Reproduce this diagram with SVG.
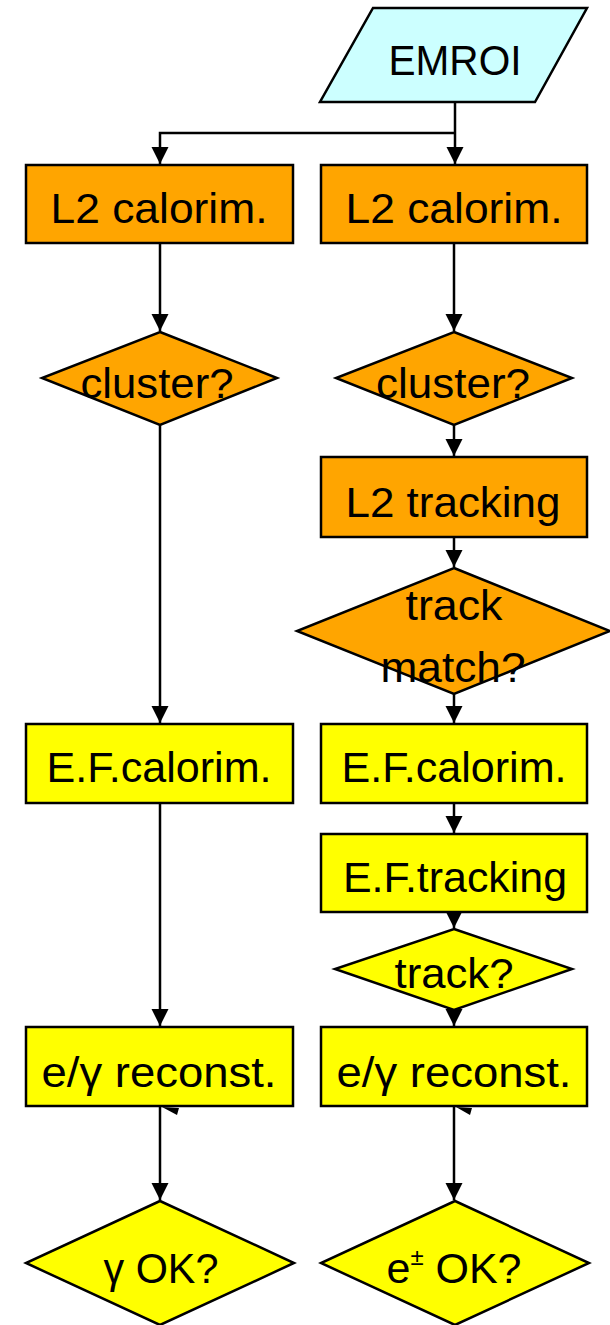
<svg xmlns="http://www.w3.org/2000/svg" width="610" height="1325" viewBox="0 0 610 1325">
  <style>
    .shape { stroke: #000; stroke-width: 2.5; stroke-linejoin: miter; }
    .io { fill: #CCFFFF; }
    .l2 { fill: #FFA500; }
    .ef { fill: #FFFF00; }
    .lbl { font-family: "Liberation Sans", Arial, sans-serif; font-size: 43px; fill: #000; text-anchor: middle; }
    .conn { fill: none; stroke: #000; stroke-width: 2.5; }
    .stub { fill: #000; stroke: none; }
  </style>
  <defs>
    <marker id="arrow" markerUnits="userSpaceOnUse" markerWidth="18" markerHeight="18" viewBox="0 0 18 18" refX="17" refY="9" orient="auto">
      <path d="M0,0.5 L17,9 L0,17.5 z" fill="#000"/>
    </marker>
  </defs>

  <rect width="610" height="1325" fill="#fff"/>

  <!-- connectors -->
  <g id="connectors">
    <path class="conn" d="M455,102 V164" marker-end="url(#arrow)"/>
    <path class="conn" d="M455,133 H160 V164" marker-end="url(#arrow)"/>
    <!-- photon branch -->
    <path class="conn" d="M160,243 V331" marker-end="url(#arrow)"/>
    <path class="conn" d="M160,425 V723" marker-end="url(#arrow)"/>
    <path class="conn" d="M160,803 V1026" marker-end="url(#arrow)"/>
    <path class="conn" d="M160,1106 V1200" marker-end="url(#arrow)"/>
    <!-- electron branch -->
    <path class="conn" d="M454,243 V331" marker-end="url(#arrow)"/>
    <path class="conn" d="M454,425 V456" marker-end="url(#arrow)"/>
    <path class="conn" d="M454,537 V567" marker-end="url(#arrow)"/>
    <path class="conn" d="M454,694 V723" marker-end="url(#arrow)"/>
    <path class="conn" d="M454,803 V833" marker-end="url(#arrow)"/>
    <path class="conn" d="M454,912 V928" marker-end="url(#arrow)"/>
    <path class="conn" d="M454,1010 V1026" marker-end="url(#arrow)"/>
    <path class="conn" d="M454,1106 V1200" marker-end="url(#arrow)"/>
    <!-- small arrowhead stubs under the reconstruction boxes -->
    <polygon class="stub" points="162,1107 179,1108 177,1115"/>
    <polygon class="stub" points="456,1107 472,1108 470,1115"/>
  </g>

  <g id="emroi">
    <polygon class="shape io" points="373,8 587,8 535,102 320,102"/>
    <text class="lbl" x="455" y="75" textLength="133" lengthAdjust="spacingAndGlyphs">EMROI</text>
  </g>

  <!-- photon branch -->
  <g id="l2-calo-gamma">
    <rect class="shape l2" x="26" y="165" width="267" height="78"/>
    <text class="lbl" x="159" y="223" textLength="217" lengthAdjust="spacingAndGlyphs">L2 calorim.</text>
  </g>
  <g id="cluster-gamma">
    <polygon class="shape l2" points="160,332 277,378 160,425 42,378"/>
    <text class="lbl" x="157" y="398" textLength="153" lengthAdjust="spacingAndGlyphs">cluster?</text>
  </g>
  <g id="ef-calo-gamma">
    <rect class="shape ef" x="26" y="724" width="267" height="79"/>
    <text class="lbl" x="159" y="782" textLength="225" lengthAdjust="spacingAndGlyphs">E.F.calorim.</text>
  </g>
  <g id="reco-gamma">
    <rect class="shape ef" x="26" y="1027" width="267" height="79"/>
    <text class="lbl" x="159" y="1087" textLength="235" lengthAdjust="spacingAndGlyphs">e/γ reconst.</text>
  </g>
  <g id="ok-gamma">
    <polygon class="shape ef" points="160,1201 294,1263 160,1325 26,1263"/>
    <text class="lbl" x="161" y="1283" textLength="115" lengthAdjust="spacingAndGlyphs">γ OK?</text>
  </g>

  <!-- electron branch -->
  <g id="l2-calo-e">
    <rect class="shape l2" x="321" y="165" width="266" height="78"/>
    <text class="lbl" x="454" y="223" textLength="217" lengthAdjust="spacingAndGlyphs">L2 calorim.</text>
  </g>
  <g id="cluster-e">
    <polygon class="shape l2" points="454,332 572,378 454,425 336,378"/>
    <text class="lbl" x="453" y="398" textLength="154" lengthAdjust="spacingAndGlyphs">cluster?</text>
  </g>
  <g id="l2-track">
    <rect class="shape l2" x="321" y="457" width="266" height="80"/>
    <text class="lbl" x="453" y="517" textLength="215" lengthAdjust="spacingAndGlyphs">L2 tracking</text>
  </g>
  <g id="track-match">
    <polygon class="shape l2" points="454,568 610,631 454,694 297,631"/>
    <text class="lbl" x="454" y="620" textLength="97" lengthAdjust="spacingAndGlyphs">track</text>
    <text class="lbl" x="453" y="682" textLength="145" lengthAdjust="spacingAndGlyphs">match?</text>
  </g>
  <g id="ef-calo-e">
    <rect class="shape ef" x="321" y="724" width="266" height="79"/>
    <text class="lbl" x="454" y="782" textLength="225" lengthAdjust="spacingAndGlyphs">E.F.calorim.</text>
  </g>
  <g id="ef-track">
    <rect class="shape ef" x="321" y="834" width="266" height="78"/>
    <text class="lbl" x="455" y="892" textLength="224" lengthAdjust="spacingAndGlyphs">E.F.tracking</text>
  </g>
  <g id="track-q">
    <polygon class="shape ef" points="454,929 572,969 454,1010 335,969"/>
    <text class="lbl" x="454" y="988" textLength="119" lengthAdjust="spacingAndGlyphs">track?</text>
  </g>
  <g id="reco-e">
    <rect class="shape ef" x="321" y="1027" width="266" height="79"/>
    <text class="lbl" x="454" y="1087" textLength="235" lengthAdjust="spacingAndGlyphs">e/γ reconst.</text>
  </g>
  <g id="ok-e">
    <polygon class="shape ef" points="455,1201 589,1263 455,1325 321,1263"/>
    <text class="lbl" x="454" y="1283">e<tspan font-size="24" dy="-18">±</tspan><tspan dy="18"> OK?</tspan></text>
  </g>
</svg>
